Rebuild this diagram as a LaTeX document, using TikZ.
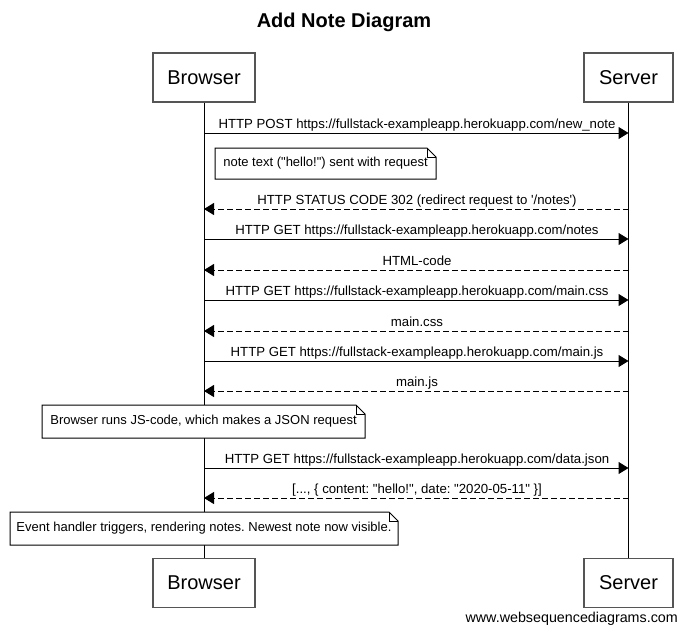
\documentclass[tikz,border=0pt]{standalone}
\usepackage{fontspec}
\setmainfont{Liberation Sans}[Ligatures=TeXOff]
\usetikzlibrary{arrows.meta}
\definecolor{boxgray}{HTML}{555555}
\frenchspacing
\begin{document}
\begin{tikzpicture}[x=1pt,y=-1pt,
  actor/.style={draw=boxgray, line width=1.2pt, fill=white, minimum width=#1, minimum height=49pt, inner sep=0pt, font=\fontsize{20}{24}\selectfont},
  lifeline/.style={draw=black, line width=1pt},
  msg/.style={draw=black, line width=1pt, -{Triangle[length=10pt,width=12pt]}},
  reply/.style={msg, dash pattern=on 6pt off 3pt},
  lbl/.style={anchor=base, inner sep=0pt, font=\fontsize{13.2}{15}\selectfont},
  notetext/.style={inner sep=0pt, minimum width=#1, font=\fontsize{13}{15}\selectfont},
  notebox/.style={draw=black, line width=1pt, fill=white},
  fold/.style={draw=black, line width=0.8pt}
]
\useasboundingbox (0,0) rectangle (687,632);
\fill[white] (0,0) rectangle (687,632);

% title
\node[font=\bfseries\fontsize{20}{23}\selectfont, inner sep=0pt] (title) at (344,22) {Add Note Diagram};

% actors
\node[actor=102pt] (bT) at (204,77.5) {Browser};
\node[actor=89pt] (sT) at (628.5,77.5) {Server};
\node[actor=102pt] (bB) at (204,583) {Browser};
\node[actor=89pt] (sB) at (628.5,583) {Server};

% lifelines
\draw[lifeline] (bT.south) -- (bB.north);
\draw[lifeline] (sT.south) -- (sB.north);

% message endpoints
\foreach \i/\y in {1/133,2/209,3/239,4/270,5/300,6/331,7/361,8/391,9/468,10/498}{
  \coordinate (b\i) at (204,\y);
  \coordinate (s\i) at (628.5,\y);
}

% messages
\draw[msg] (b1) -- (s1);
\node[lbl] (l1) at (417,128) {HTTP POST https://fullstack-exampleapp.herokuapp.com/new\_note};

\draw[reply] (s2) -- (b2);
\node[lbl] (l2) at (417,204) {HTTP STATUS CODE 302 (redirect request to '/notes')};

\draw[msg] (b3) -- (s3);
\node[lbl] (l3) at (417,234) {HTTP GET https://fullstack-exampleapp.herokuapp.com/notes};

\draw[reply] (s4) -- (b4);
\node[lbl] (l4) at (417,265) {HTML-code};

\draw[msg] (b5) -- (s5);
\node[lbl] (l5) at (417,295) {HTTP GET https://fullstack-exampleapp.herokuapp.com/main.css};

\draw[reply] (s6) -- (b6);
\node[lbl] (l6) at (417,326) {main.css};

\draw[msg] (b7) -- (s7);
\node[lbl] (l7) at (417,356) {HTTP GET https://fullstack-exampleapp.herokuapp.com/main.js};

\draw[reply] (s8) -- (b8);
\node[lbl] (l8) at (417,386) {main.js};

\draw[msg] (b9) -- (s9);
\node[lbl] (l9) at (417,463) {HTTP GET https://fullstack-exampleapp.herokuapp.com/data.json};

\draw[reply] (s10) -- (b10);
\node[lbl] (l10) at (417,493) {[..., \{ content: "hello!", date: "2020-05-11" \}]};

% note outlines (drawn from coordinates, texts on top)
\foreach \n/\cx/\cy/\w/\h in {n1/325.5/163.5/221/31, n2/203.5/421.5/323/33, n3/204/528.5/388/33}{
  \coordinate (\n sw) at (\cx-\w/2,\cy+\h/2);
  \coordinate (\n nw) at (\cx-\w/2,\cy-\h/2);
  \coordinate (\n ne) at (\cx+\w/2,\cy-\h/2);
  \coordinate (\n se) at (\cx+\w/2,\cy+\h/2);
  \path[notebox] (\n sw) -- (\n nw) -- ([xshift=-9pt]\n ne) -- ([yshift=-9pt]\n ne) -- (\n se) -- cycle;
  \draw[fold] ([xshift=-9pt]\n ne) -- ([xshift=-9pt,yshift=-9pt]\n ne) -- ([yshift=-9pt]\n ne);
}
\node[notetext=221pt, minimum height=31pt] (n1) at (325.5,163.5) {note text ("hello!") sent with request};
\node[notetext=323pt, minimum height=33pt] (n2) at (203.5,421.5) {Browser runs JS-code, which makes a JSON request};
\node[notetext=388pt, minimum height=33pt] (n3) at (204,528.5) {Event handler triggers, rendering notes. Newest note now visible.};

% footer
\node[anchor=base east, inner sep=0pt, font=\fontsize{14.3}{16}\selectfont] (footer) at (678,622) {www.websequencediagrams.com};
\end{tikzpicture}
\end{document}
